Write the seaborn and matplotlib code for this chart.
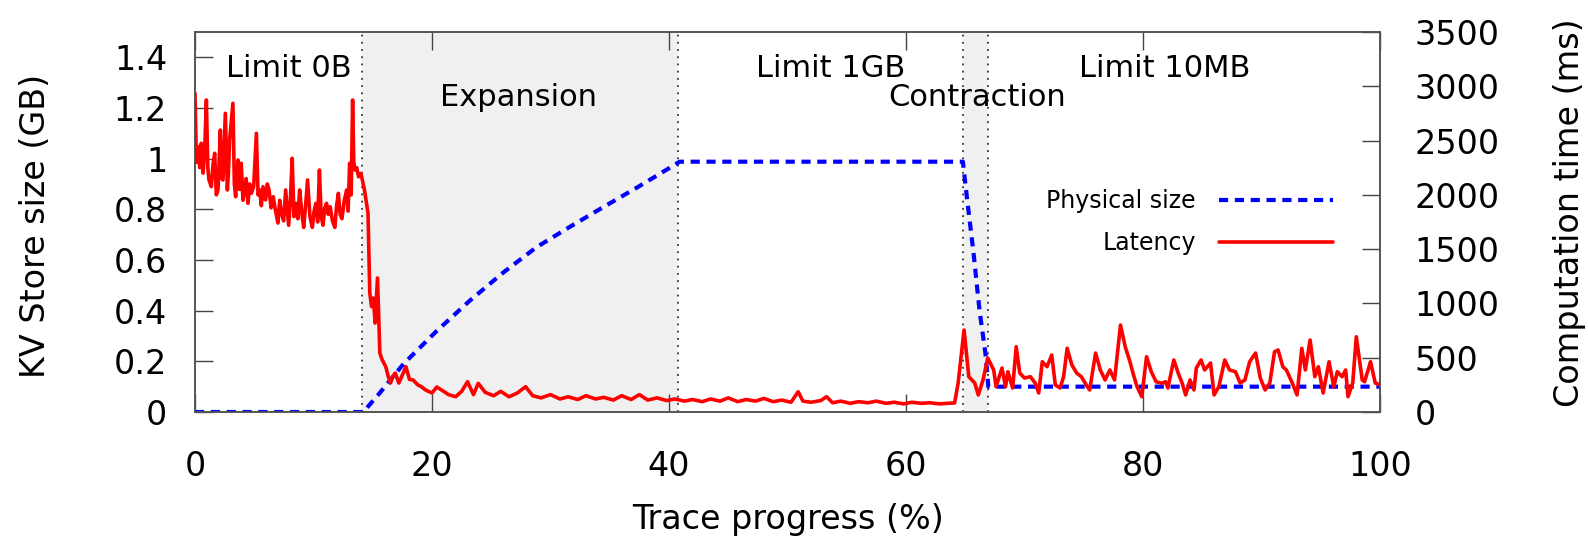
import numpy as np
import pandas as pd
import matplotlib
matplotlib.use("Agg")
import matplotlib.pyplot as plt
from matplotlib.ticker import FuncFormatter
from matplotlib.lines import Line2D
import seaborn as sns

# --- data ---
# physical size of the KV store (GB, left axis)
size_x = [0, 14.2, 15.5, 17.6, 20.4, 23.2, 26.0, 28.8, 31.6, 34.5, 37.3, 40.1, 40.9,
          64.8, 65.1, 65.7, 66.2, 66.7, 66.95, 100]
size_gb = [0, 0, 0.07, 0.19, 0.32, 0.44, 0.55, 0.65, 0.73, 0.81, 0.886, 0.965, 0.988,
           0.988, 0.863, 0.627, 0.403, 0.232, 0.10, 0.10]

# latency (ms, right axis)
lat_x = [0.0, 0.12, 0.25, 0.4, 0.53, 0.68, 0.82, 0.96, 1.08, 1.18, 1.38, 1.52, 1.66,
         1.8, 1.94, 2.14, 2.25, 2.36, 2.56, 2.73, 2.82, 2.92, 3.2, 3.32, 3.43, 3.63,
         3.77, 3.9, 4.05, 4.19, 4.32, 4.47, 4.62, 4.75, 4.95, 5.18, 5.32, 5.46, 5.6,
         5.74, 5.96, 6.1, 6.25, 6.42, 6.6, 6.8, 7.0, 7.15, 7.3, 7.48, 7.65, 7.9, 8.05,
         8.2, 8.35, 8.5, 8.68, 8.83, 9.0, 9.17, 9.33, 9.5, 9.7, 9.9, 10.05, 10.2, 10.35,
         10.5, 10.65, 10.8, 10.95, 11.1, 11.25, 11.4, 11.6, 11.8, 11.95, 12.1, 12.25,
         12.4, 12.6, 12.8, 12.92, 13.05, 13.18, 13.3, 13.4, 13.5, 13.65, 13.8, 14.0, 14.3,
         14.6, 14.75, 14.9, 15.05, 15.2, 15.4, 15.6, 15.8, 16.1, 16.3, 16.5, 16.7, 16.9,
         17.2, 17.5, 17.8, 18.1, 18.4, 18.8, 19.1, 19.5, 20.0, 20.4, 20.8, 21.4, 22.0,
         22.5, 23.0, 23.5, 23.9, 24.5, 25.2, 25.8, 26.5, 27.2, 27.9, 28.5, 29.2, 30.0,
         30.8, 31.5, 32.3, 33.0, 33.8, 34.5, 35.3, 36.0, 36.8, 37.5, 38.2, 39.0, 39.8,
         40.5, 41.3, 42.0, 42.8, 43.5, 44.3, 45.0, 45.8, 46.5, 47.3, 48.0, 48.8, 49.5,
         50.3, 50.9, 51.3, 52.0, 52.8, 53.3, 53.8, 54.5, 55.3, 56.0, 56.8, 57.5, 58.3,
         59.0, 59.8, 60.5, 61.3, 62.0, 62.8, 63.5, 64.1, 64.4, 64.9, 65.3, 65.8, 66.1,
         66.5, 66.9, 67.4, 67.6, 68.1, 68.4, 68.6, 69.0, 69.3, 69.6, 70.0, 70.5, 70.9,
         71.2, 71.5, 71.9, 72.3, 72.6, 73.0, 73.3, 73.6, 74.0, 74.4, 74.8, 75.3, 75.5,
         76.0, 76.4, 76.8, 77.2, 77.6, 78.1, 78.5, 78.9, 79.2, 79.5, 79.9, 80.3, 80.7,
         81.1, 81.6, 81.9, 82.1, 82.6, 82.97, 83.3, 83.6, 83.97, 84.3, 84.5, 84.9, 85.2,
         85.7, 86.0, 86.4, 86.9, 87.3, 87.8, 88.2, 88.6, 89.0, 89.5, 89.9, 90.3, 90.7,
         91.1, 91.4, 91.8, 92.1, 92.6, 93.0, 93.4, 93.7, 94.1, 94.5, 94.8, 95.2, 95.7,
         96.1, 96.4, 96.8, 97.1, 97.3, 97.7, 98.0, 98.5, 98.7, 99.2, 99.6, 100.0]
lat_ms = [2935, 2300, 2443, 2250, 2475, 2200, 2413, 2874, 2250, 2137, 2075, 2280, 2383,
          2000, 2045, 2597, 2150, 2137, 2751, 2045, 2200, 2505, 2843, 2100, 1983, 2321,
          2050, 2291, 1950, 2045, 2150, 1922, 2100, 2014, 2075, 2567, 2000, 2045, 1900,
          2075, 1953, 2100, 2045, 1880, 1983, 1850, 1740, 1950, 1830, 1760, 2045, 1720,
          1950, 2337, 1800, 1922, 1780, 2045, 1850, 1700, 1900, 2137, 1800, 1700, 1850,
          1922, 1750, 2229, 1800, 1720, 1880, 1922, 1820, 1891, 1760, 1700, 1900, 2014,
          1820, 1780, 1950, 2045, 1850, 2291, 2000, 2874, 2300, 2229, 2250, 2167, 2198,
          2045, 1832, 1096, 970, 1050, 819, 1234, 543, 479, 417, 330, 267, 330, 359,
          267, 340, 417, 300, 295, 250, 233, 200, 175, 230, 203, 160, 141,
          190, 279, 160, 264, 180, 150, 190, 140, 175, 233, 150, 130, 160,
          120, 140, 115, 150, 120, 135, 110, 150, 115, 160, 110, 130, 105,
          120, 100, 115, 95, 120, 100, 130, 95, 115, 100, 125, 95, 110,
          90, 187, 100, 90, 105, 141, 85, 100, 80, 95, 85, 100, 80,
          90, 75, 90, 80, 85, 75, 80, 83, 267, 755, 325, 267, 157,
          295, 497, 387, 233, 405, 233, 371, 221, 601, 359, 313, 325, 267,
          175, 463, 417, 525, 249, 221, 325, 587, 433, 359, 325, 233, 203,
          543, 387, 295, 387, 295, 801, 601, 463, 341, 233, 141, 509, 371,
          279, 264, 279, 221, 479, 359, 267, 157, 295, 203, 405, 479, 387,
          451, 157, 233, 479, 387, 371, 267, 295, 463, 543, 313, 203, 267,
          555, 571, 417, 387, 267, 157, 587, 387, 663, 325, 417, 175, 463,
          233, 371, 325, 387, 141, 267, 693, 295, 279, 463, 267, 249]

phase_bounds = [14.1, 40.8, 64.8, 66.9]
shaded = [(14.1, 40.8), (64.8, 66.9)]
phase_names = ["Limit 0B", "Expansion", "Limit 1GB", "Contraction", "Limit 10MB"]
phase_text_x = [7.9, 27.3, 53.6, 66.0, 81.8]
phase_text_y = [1.355, 1.24, 1.355, 1.24, 1.355]

size_df = pd.DataFrame({"x": size_x, "gb": size_gb})
lat_df = pd.DataFrame({"x": lat_x, "ms": lat_ms})

sns.set_style("white", {"xtick.bottom": True, "ytick.left": True,
                        "text.color": "black", "axes.labelcolor": "black",
                        "xtick.color": "black", "ytick.color": "black"})
plt.rcParams["font.family"] = ["DejaVu Sans"]

fig = plt.figure(figsize=(15.88, 5.40), dpi=100)
ax = fig.add_axes([195 / 1588, 1 - 412 / 540, 1185 / 1588, 380 / 540])
ax2 = ax.twinx()

for a, b in shaded:
    ax.axvspan(a, b, color="#f0f0f0", lw=0, zorder=0)
for xb in phase_bounds:
    ax.axvline(xb, color="#333333", ls=(0, (1, 3)), lw=1.3, zorder=1)

sns.lineplot(data=size_df, x="x", y="gb", ax=ax, color="#0000ff", lw=3,
             zorder=3, legend=False)
ax.lines[-1].set_linestyle((0, (2.2, 1.6)))
sns.lineplot(data=lat_df, x="x", y="ms", ax=ax2, color="#ff0000", lw=2.6,
             zorder=4, legend=False)

for name, tx, ty in zip(phase_names, phase_text_x, phase_text_y):
    ax.text(tx, ty, name, ha="center", va="center", fontsize=22, color="black")

ax.set_xlim(0, 100)
ax.set_ylim(0, 1.5)
ax2.set_ylim(0, 3500)
ax.set_xticks([0, 20, 40, 60, 80, 100])
ax.set_yticks([0, 0.2, 0.4, 0.6, 0.8, 1.0, 1.2, 1.4])
ax2.set_yticks([0, 500, 1000, 1500, 2000, 2500, 3000, 3500])
ax.yaxis.set_major_formatter(FuncFormatter(lambda v, p: f"{v:g}"))

ax.tick_params(axis="x", direction="in", length=13, width=1, color="#444444",
               labelcolor="black", labelsize=24, pad=27, top=True, bottom=True)
ax.tick_params(axis="y", direction="in", length=13, width=1, color="#444444",
               labelcolor="black", labelsize=24, pad=20, left=True, right=False)
ax2.tick_params(axis="y", direction="in", length=13, width=1, color="#444444",
                labelcolor="black", labelsize=24, pad=25, right=True, left=False)
for a in (ax, ax2):
    for sp in a.spines.values():
        sp.set_color("#555555")
        sp.set_linewidth(1.2)

ax.set_xlabel("Trace progress (%)", fontsize=24, color="black")
ax.set_ylabel("KV Store size (GB)", fontsize=24, color="black")
ax2.set_ylabel("Computation time (ms)", fontsize=24, color="black")
ax.xaxis.set_label_coords(0.5, -0.24)
ax.yaxis.set_label_coords(-0.121, 0.49)
ax2.yaxis.set_label_coords(1.146, 0.525)

handles = [Line2D([], [], color="#0000ff", lw=3, ls=(0, (2.2, 1.6))),
           Line2D([], [], color="#ff0000", lw=2.6)]
ax2.legend(handles, ["Physical size", "Latency"], loc="center right",
           bbox_to_anchor=(0.978, 0.50), frameon=False, fontsize=17,
           markerfirst=False, handlelength=4.8, labelspacing=0.75,
           handletextpad=1.0)

fig.savefig("out.png", dpi=100)
